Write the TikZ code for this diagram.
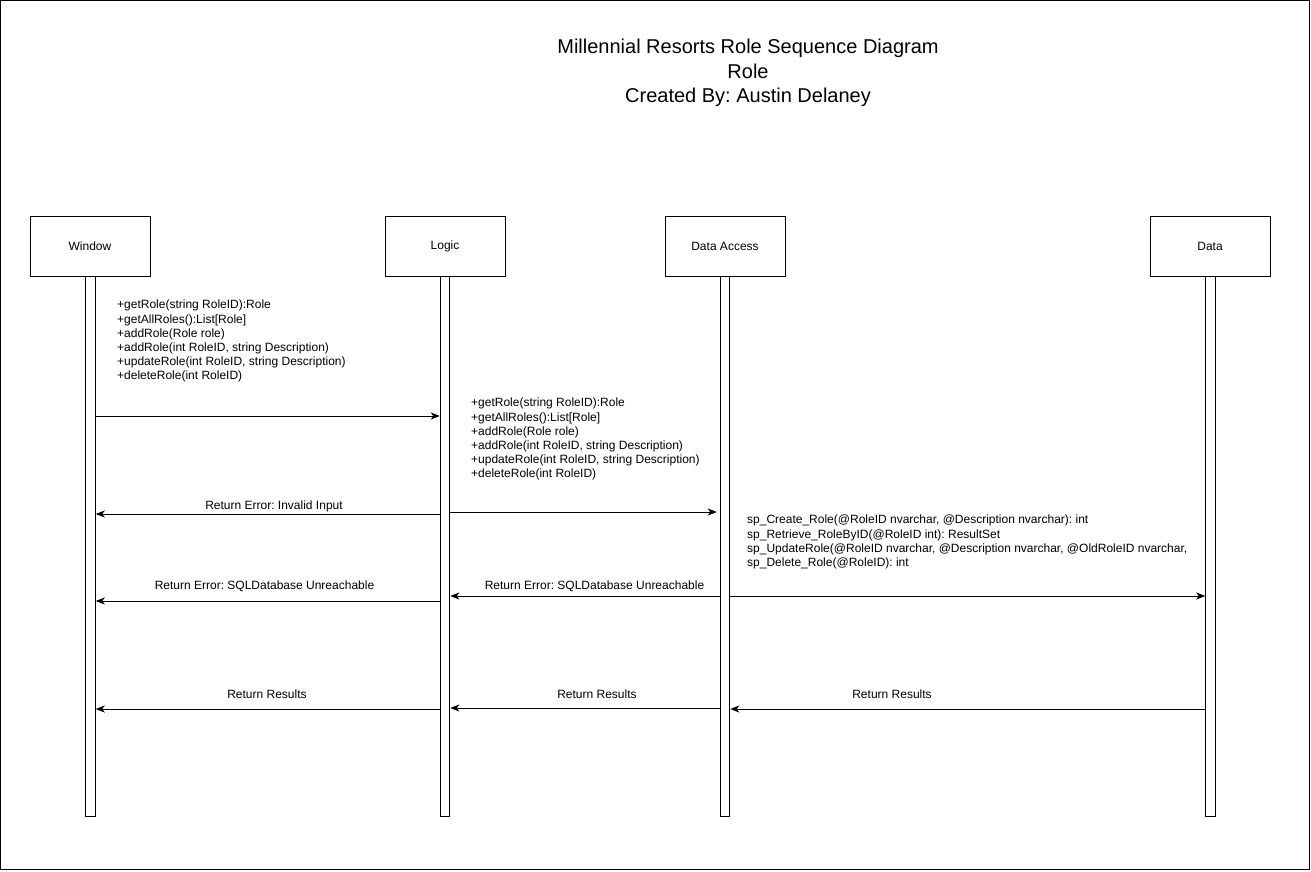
\documentclass[tikz,border=0pt]{standalone}
\usepackage{fontspec}
\setmainfont{Liberation Sans}
\usetikzlibrary{arrows.meta}
\frenchspacing
\begin{document}
\begin{tikzpicture}[x=1pt,y=-1pt,
  every node/.style={font=\fontsize{12}{14.2}\selectfont},
  actor/.style={draw,line width=1pt,minimum width=120pt,minimum height=60pt,inner sep=0pt},
  lifebar/.style={draw,line width=1pt,minimum width=9.5pt,minimum height=540pt,inner sep=0pt},
  msg/.style={line width=1pt,-{Stealth[length=9pt,width=7pt,inset=2.5pt]}},
  lbl/.style={inner sep=0pt},
  ops/.style={align=left,anchor=north west,inner sep=0pt}
]
\useasboundingbox (0,0) rectangle (1311,871);
\draw[line width=1pt] (0.5,0.5) rectangle (1309.5,869.5);

\node[align=center,anchor=north,inner sep=0pt,font=\fontsize{20}{24.5}\selectfont] (title) at (748,39)
  {Millennial Resorts Role Sequence Diagram\\Role\\Created By: Austin Delaney};

\node[actor] (win) at (90,246) {Window};
\node[actor] (log) at (445,246) {Logic};
\node[actor] (dac) at (725,246) {Data Access};
\node[actor] (dat) at (1210,246) {Data};

\node[lifebar] (winl) at (90.5,546) {};
\node[lifebar] (logl) at (445,546) {};
\node[lifebar] (dacl) at (725,546) {};
\node[lifebar] (datl) at (1210.5,546) {};

\node[ops] (ops1) at (117,300) {+getRole(string RoleID):Role\\+getAllRoles():List[Role]\\+addRole(Role role)\\+addRole(int RoleID, string Description)\\+updateRole(int RoleID, string Description)\\+deleteRole(int RoleID)};
\node[ops] (ops2) at (471,398) {+getRole(string RoleID):Role\\+getAllRoles():List[Role]\\+addRole(Role role)\\+addRole(int RoleID, string Description)\\+updateRole(int RoleID, string Description)\\+deleteRole(int RoleID)};
\node[ops] (sql) at (747,515) {sp\_Create\_Role(@RoleID nvarchar, @Description nvarchar): int\\sp\_Retrieve\_RoleByID(@RoleID int): ResultSet\\sp\_UpdateRole(@RoleID nvarchar, @Description nvarchar, @OldRoleID nvarchar,\\sp\_Delete\_Role(@RoleID): int};

\draw[msg] (winl.east |- 0,416) -- (logl.west |- 0,416);
\draw[msg] (logl.west |- 0,514) -- (winl.east |- 0,514);
\draw[msg,shorten >=3pt] (logl.east |- 0,512) -- (dacl.west |- 0,512);
\draw[msg] (logl.west |- 0,601) -- (winl.east |- 0,601);
\draw[msg] (dacl.west |- 0,596) -- (logl.east |- 0,596);
\draw[msg] (dacl.east |- 0,596) -- (datl.west |- 0,596);
\draw[msg] (logl.west |- 0,709) -- (winl.east |- 0,709);
\draw[msg] (dacl.west |- 0,708) -- (logl.east |- 0,708);
\draw[msg] (datl.west |- 0,709) -- (dacl.east |- 0,709);

\node[lbl] (l1) at (274,506) {Return Error: Invalid Input};
\node[lbl] (l2) at (264.5,586) {Return Error: SQLDatabase Unreachable};
\node[lbl] (l3) at (594.5,586) {Return Error: SQLDatabase Unreachable};
\node[lbl] (l4) at (267,694) {Return Results};
\node[lbl] (l5) at (597,694) {Return Results};
\node[lbl] (l6) at (892,694) {Return Results};
\end{tikzpicture}
\end{document}
